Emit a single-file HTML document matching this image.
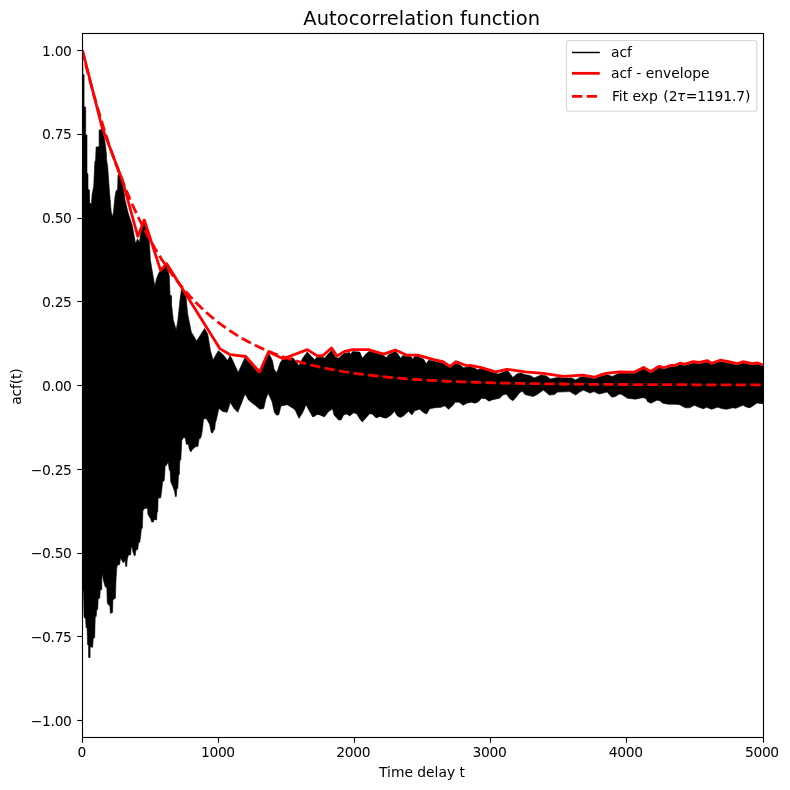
<!DOCTYPE html>
<html><head><meta charset="utf-8"><title>Autocorrelation function</title>
<style>
html,body{margin:0;padding:0;background:#fff;}
svg{display:block;}
text{font-family:"DejaVu Sans", "Liberation Sans", sans-serif;fill:#000;}
</style></head><body>
<svg width="790" height="790" viewBox="0 0 790 790">
<rect x="0" y="0" width="790" height="790" fill="#fff"/>
<defs><clipPath id="ax"><rect x="82.5" y="33.5" width="681.0" height="704.0"/></clipPath></defs>
<g clip-path="url(#ax)">
<polygon points="82.5,50.3 83.0,74.7 84.1,74.7 84.1,107.0 85.7,107.0 85.7,135.0 87.0,135.0 87.0,173.0 88.0,174.0 88.0,189.0 89.5,190.0 89.5,203.0 91.0,203.5 91.4,205.2 92.1,194.2 93.7,186.6 94.8,162.0 95.6,160.0 96.1,147.0 99.1,146.7 99.1,130.0 101.2,129.8 101.9,126.8 104.8,140.5 106.4,153.2 106.6,160.0 107.7,166.8 109.2,188.1 111.1,210.9 112.3,217.0 113.4,212.4 114.9,197.2 116.1,190.4 117.6,190.0 118.0,174.8 120.2,174.0 122.3,180.5 125.2,200.4 128.4,214.0 132.2,225.0 135.0,240.5 135.6,243.7 137.5,238.7 139.4,242.5 140.8,233.0 143.6,223.4 144.3,221.0 149.2,239.5 150.4,260.0 152.8,274.4 154.9,286.4 156.4,279.0 158.7,273.0 160.4,271.0 166.6,264.7 169.3,275.4 170.0,294.4 171.6,296.0 171.6,305.0 173.3,320.0 176.2,330.0 177.9,320.0 180.0,300.0 181.4,289.8 182.4,289.5 186.0,296.6 186.8,305.0 187.7,314.0 191.3,332.0 196.6,340.9 204.6,328.5 207.7,333.9 210.3,349.8 213.0,360.0 218.3,350.7 222.7,354.2 227.6,360.4 229.8,356.0 231.6,358.0 238.2,372.4 244.9,357.8 258.2,372.8 259.5,373.0 268.8,353.4 272.4,360.4 274.1,369.3 276.8,372.8 280.4,362.2 283.0,359.0 292.8,357.8 295.0,360.2 299.0,365.8 302.6,358.2 307.2,352.1 310.2,355.1 314.7,359.7 316.8,357.2 322.8,357.2 324.4,358.2 331.5,350.6 335.5,357.2 338.5,358.2 344.1,353.6 349.7,352.6 350.2,354.6 352.7,351.6 359.8,352.1 362.3,358.2 365.9,354.1 368.9,351.6 370.0,351.6 383.7,355.6 386.2,357.7 388.7,354.6 395.3,351.6 398.4,354.6 400.4,358.2 402.9,355.6 406.5,356.6 411.0,356.6 412.5,359.2 414.6,356.6 417.6,356.6 423.7,359.2 426.2,363.7 428.7,360.2 433.8,361.2 442.9,363.2 445.0,364.7 450.1,367.8 456.1,363.2 461.0,365.5 463.2,367.8 466.8,367.3 470.3,366.8 475.0,368.2 477.4,369.8 480.4,368.8 495.6,373.3 498.2,374.0 506.8,370.8 508.8,371.8 512.8,377.4 516.9,373.9 521.0,372.9 524.0,374.4 530.0,375.5 534.2,377.9 541.3,374.9 546.3,375.9 550.4,378.9 557.5,377.4 563.5,377.9 571.6,377.9 575.7,379.9 579.7,377.4 582.8,376.7 594.4,378.7 600.0,376.7 606.1,374.9 608.2,374.9 612.2,376.4 617.3,373.9 619.3,373.3 634.5,373.6 643.6,369.0 650.7,373.0 659.3,367.8 663.9,369.3 670.9,366.8 675.0,366.8 680.1,364.7 684.7,365.7 693.3,363.2 699.4,363.9 707.5,362.2 711.5,364.7 720.1,361.7 728.7,363.2 736.8,365.2 742.9,363.2 750.0,364.7 752.0,364.8 757.9,364.3 763.5,366.5 763.5,403.9 757.0,403.0 750.0,407.8 747.0,407.3 742.9,405.3 735.8,408.3 732.8,407.8 726.7,409.3 722.7,408.8 717.6,407.3 711.5,409.3 706.5,407.3 703.4,408.8 698.9,407.3 694.3,405.3 689.7,407.8 685.2,407.8 679.6,404.7 675.0,404.2 667.9,404.2 662.8,403.2 659.8,400.7 656.8,400.2 651.2,403.2 647.7,401.7 645.6,398.2 642.6,397.7 635.5,399.2 627.4,398.2 621.8,394.6 619.3,394.1 615.3,396.6 611.7,397.2 607.2,392.1 599.0,394.1 593.9,391.6 589.9,393.1 583.3,390.1 579.7,392.1 575.7,395.1 569.6,391.6 557.5,392.1 554.4,394.6 549.4,395.1 543.3,390.1 537.2,394.6 533.2,396.6 525.0,394.6 522.0,391.1 518.9,393.6 515.9,397.7 512.8,400.7 509.8,398.7 506.3,394.1 502.7,395.1 499.7,398.2 492.6,399.7 489.0,401.2 485.5,398.7 481.5,398.2 478.4,401.7 474.9,403.2 471.3,402.2 466.8,403.2 463.2,405.3 459.2,402.2 455.1,402.2 452.6,405.8 448.5,409.3 444.9,405.8 440.9,407.3 434.8,407.8 429.7,408.8 426.7,413.9 423.7,412.8 419.6,409.3 414.6,410.8 412.0,414.9 408.5,411.3 403.4,415.9 400.4,417.4 397.3,415.9 394.3,411.3 391.3,414.9 386.7,417.9 384.2,417.9 380.1,416.4 376.1,417.9 373.0,414.9 372.0,413.9 369.4,413.9 365.9,417.9 362.3,422.0 359.8,418.9 356.8,413.9 353.7,412.8 349.7,415.9 346.6,413.9 343.6,414.9 341.1,419.9 338.5,419.9 334.0,414.9 332.5,408.8 328.4,411.8 324.4,416.9 319.8,414.9 316.8,414.4 315.3,415.9 312.7,416.9 309.2,410.8 306.1,404.7 302.6,412.8 299.0,418.4 295.0,409.8 293.3,408.5 287.2,404.7 281.0,406.0 278.9,414.5 276.6,415.3 274.3,412.3 272.0,401.6 268.2,393.3 266.0,398.6 263.7,408.5 259.9,409.2 255.3,405.4 248.5,400.0 245.0,394.0 241.6,403.0 237.8,412.3 234.0,408.5 230.3,402.4 227.2,412.3 222.7,411.5 218.9,408.5 216.3,420.0 215.3,423.0 214.7,429.6 213.7,430.1 212.5,433.2 211.2,432.2 209.7,424.6 207.2,420.0 206.0,418.4 203.7,419.0 203.4,420.0 202.6,428.1 201.6,434.7 200.6,438.2 199.1,438.7 198.0,446.3 195.5,446.8 192.0,449.9 190.9,451.9 189.4,449.4 188.4,444.3 186.4,444.3 185.4,438.7 183.9,437.2 181.8,440.3 180.8,460.0 179.8,460.5 179.3,474.7 178.5,475.2 177.8,488.4 176.8,488.9 176.3,496.5 175.3,496.5 174.7,491.9 172.7,486.3 170.7,481.8 170.2,471.1 169.2,469.6 168.2,462.0 166.6,465.0 165.1,466.6 164.6,476.2 164.1,480.8 162.6,481.8 161.6,491.4 160.6,498.0 158.1,498.1 157.8,511.8 157.1,511.8 156.6,519.9 154.0,519.4 153.5,521.9 151.5,521.9 151.0,519.4 147.9,514.3 147.4,506.2 146.9,508.2 144.4,508.7 142.9,510.8 142.4,528.0 141.4,529.0 140.6,536.6 139.8,542.2 138.5,542.7 137.8,549.2 135.8,550.3 135.3,555.3 134.3,555.8 132.8,551.3 132.2,547.2 131.2,547.2 130.7,554.8 128.2,555.3 127.2,559.9 126.7,566.5 125.7,566.5 125.2,560.0 123.6,562.9 122.1,560.9 120.6,557.8 119.6,564.4 117.1,565.4 116.6,570.0 115.9,582.0 115.4,598.2 112.9,599.7 112.6,612.4 110.4,613.4 109.9,606.3 107.3,603.3 106.8,587.6 105.3,587.1 103.3,580.0 102.2,572.8 101.8,580.0 101.8,589.6 100.3,590.1 99.7,598.2 98.2,598.7 97.7,609.4 96.7,609.9 96.2,616.5 95.2,617.0 94.7,637.7 93.2,638.2 92.7,647.3 90.1,646.8 90.1,657.5 88.6,657.5 88.6,645.8 87.6,644.8 87.1,628.6 86.1,627.6 85.6,618.5 84.0,617.5 83.5,591.1 82.5,591.0" fill="#000" stroke="#000" stroke-width="0.6" stroke-linejoin="round"/>
<polyline points="82.5,50.3 101.8,126.5 122.3,180.0 137.8,236.4 144.3,220.0 160.6,270.4 166.6,263.6 220.1,348.9 230.3,354.7 245.8,356.5 259.5,372.0 268.6,351.8 283.0,358.7 307.4,349.6 316.8,355.6 322.8,355.6 331.5,348.0 337.0,356.1 344.1,351.6 352.7,349.6 368.9,349.6 370.0,350.1 383.7,354.1 395.3,350.1 406.5,355.1 417.6,355.1 433.8,359.7 442.9,361.7 450.1,366.3 456.1,361.7 466.8,365.8 470.3,365.3 480.4,367.3 495.6,371.8 506.8,369.3 525.0,371.8 543.3,373.4 563.5,376.4 582.8,375.2 594.4,377.2 600.0,375.2 606.1,373.4 619.3,371.8 634.5,372.1 643.6,367.5 650.7,371.5 659.3,366.3 663.9,367.8 670.9,365.3 675.0,365.3 680.1,363.2 684.7,364.2 693.3,361.7 699.4,362.4 707.5,360.7 711.5,363.2 720.1,360.2 728.7,361.7 736.8,363.7 742.9,361.7 750.0,363.2 752.0,363.6 757.9,363.0 763.5,365.3" fill="none" stroke="#f00" stroke-width="2.78" stroke-linejoin="round"/>
<polyline points="82.2,49.9 83.5,55.5 84.9,61.0 86.2,66.4 87.6,71.7 89.0,76.9 90.3,82.0 91.7,87.1 93.0,92.0 94.4,96.9 95.8,101.7 97.1,106.4 98.5,111.0 99.9,115.6 101.2,120.1 102.6,124.5 103.9,128.8 105.3,133.1 106.7,137.3 108.0,141.4 109.4,145.4 110.7,149.4 112.1,153.4 113.5,157.2 114.8,161.0 116.2,164.7 117.6,168.4 118.9,172.0 120.3,175.5 121.6,179.0 123.0,182.4 124.4,185.8 125.7,189.1 127.1,192.4 128.5,195.6 129.8,198.7 131.2,201.8 132.5,204.9 133.9,207.9 135.3,210.8 136.6,213.7 138.0,216.6 139.3,219.4 140.7,222.1 142.1,224.8 143.4,227.5 144.8,230.1 146.2,232.7 147.5,235.2 148.9,237.7 150.2,240.2 151.6,242.6 153.0,245.0 154.3,247.3 155.7,249.6 157.0,251.8 158.4,254.0 159.8,256.2 161.1,258.4 162.5,260.5 163.9,262.5 165.2,264.6 166.6,266.6 167.9,268.6 169.3,270.5 170.7,272.4 172.0,274.3 173.4,276.1 174.8,277.9 176.1,279.7 177.5,281.5 178.8,283.2 180.2,284.9 181.6,286.5 182.9,288.2 184.3,289.8 185.6,291.4 187.0,292.9 188.4,294.5 189.7,296.0 191.1,297.4 192.5,298.9 193.8,300.3 195.2,301.7 196.5,303.1 197.9,304.5 199.3,305.8 200.6,307.1 202.0,308.4 203.4,309.7 204.7,311.0 206.1,312.2 207.4,313.4 208.8,314.6 210.2,315.8 211.5,316.9 212.9,318.0 214.2,319.2 215.6,320.3 217.0,321.3 218.3,322.4 219.7,323.4 221.1,324.5 222.4,325.5 223.8,326.4 225.1,327.4 226.5,328.4 227.9,329.3 229.2,330.2 230.6,331.2 231.9,332.0 233.3,332.9 234.7,333.8 236.0,334.6 237.4,335.5 238.8,336.3 240.1,337.1 241.5,337.9 242.8,338.7 244.2,339.5 245.6,340.2 246.9,341.0 248.3,341.7 249.7,342.4 251.0,343.1 252.4,343.8 253.7,344.5 255.1,345.2 256.5,345.8 257.8,346.5 259.2,347.1 260.5,347.8 261.9,348.4 263.3,349.0 264.6,349.6 266.0,350.2 267.4,350.7 268.7,351.3 270.1,351.9 271.4,352.4 272.8,353.0 274.2,353.5 275.5,354.0 276.9,354.5 278.2,355.0 279.6,355.5 281.0,356.0 282.3,356.5 283.7,357.0 285.1,357.4 286.4,357.9 287.8,358.4 289.1,358.8 290.5,359.2 291.9,359.7 293.2,360.1 294.6,360.5 296.0,360.9 297.3,361.3 298.7,361.7 300.0,362.1 301.4,362.5 302.8,362.8 304.1,363.2 305.5,363.6 306.8,363.9 308.2,364.3 309.6,364.6 310.9,365.0 312.3,365.3 313.7,365.6 315.0,365.9 316.4,366.2 317.7,366.6 319.1,366.9 320.5,367.2 321.8,367.5 323.2,367.8 324.6,368.0 325.9,368.3 327.3,368.6 328.6,368.9 330.0,369.1 331.4,369.4 332.7,369.7 334.1,369.9 335.4,370.2 336.8,370.4 338.2,370.6 339.5,370.9 340.9,371.1 342.3,371.3 343.6,371.6 345.0,371.8 346.3,372.0 347.7,372.2 349.1,372.4 350.4,372.7 351.8,372.9 353.1,373.1 354.5,373.3 355.9,373.4 357.2,373.6 358.6,373.8 360.0,374.0 361.3,374.2 362.7,374.4 364.0,374.5 365.4,374.7 366.8,374.9 368.1,375.1 369.5,375.2 370.9,375.4 372.2,375.5 373.6,375.7 374.9,375.9 376.3,376.0 377.7,376.2 379.0,376.3 380.4,376.4 381.7,376.6 383.1,376.7 384.5,376.9 385.8,377.0 387.2,377.1 388.6,377.3 389.9,377.4 391.3,377.5 392.6,377.6 394.0,377.8 395.4,377.9 396.7,378.0 398.1,378.1 399.4,378.2 400.8,378.3 402.2,378.4 403.5,378.5 404.9,378.7 406.3,378.8 407.6,378.9 409.0,379.0 410.3,379.1 411.7,379.2 413.1,379.3 414.4,379.4 415.8,379.4 417.2,379.5 418.5,379.6 419.9,379.7 421.2,379.8 422.6,379.9 424.0,380.0 425.3,380.1 426.7,380.1 428.0,380.2 429.4,380.3 430.8,380.4 432.1,380.4 433.5,380.5 434.9,380.6 436.2,380.7 437.6,380.7 438.9,380.8 440.3,380.9 441.7,380.9 443.0,381.0 444.4,381.1 445.8,381.1 447.1,381.2 448.5,381.3 449.8,381.3 451.2,381.4 452.6,381.4 453.9,381.5 455.3,381.6 456.6,381.6 458.0,381.7 459.4,381.7 460.7,381.8 462.1,381.8 463.5,381.9 464.8,381.9 466.2,382.0 467.5,382.0 468.9,382.1 470.3,382.1 471.6,382.2 473.0,382.2 474.3,382.3 475.7,382.3 477.1,382.4 478.4,382.4 479.8,382.4 481.2,382.5 482.5,382.5 483.9,382.6 485.2,382.6 486.6,382.6 488.0,382.7 489.3,382.7 490.7,382.8 492.1,382.8 493.4,382.8 494.8,382.9 496.1,382.9 497.5,382.9 498.9,383.0 500.2,383.0 501.6,383.0 502.9,383.1 504.3,383.1 505.7,383.1 507.0,383.1 508.4,383.2 509.8,383.2 511.1,383.2 512.5,383.3 513.8,383.3 515.2,383.3 516.6,383.3 517.9,383.4 519.3,383.4 520.6,383.4 522.0,383.4 523.4,383.5 524.7,383.5 526.1,383.5 527.5,383.5 528.8,383.6 530.2,383.6 531.5,383.6 532.9,383.6 534.3,383.7 535.6,383.7 537.0,383.7 538.4,383.7 539.7,383.7 541.1,383.8 542.4,383.8 543.8,383.8 545.2,383.8 546.5,383.8 547.9,383.9 549.2,383.9 550.6,383.9 552.0,383.9 553.3,383.9 554.7,383.9 556.1,384.0 557.4,384.0 558.8,384.0 560.1,384.0 561.5,384.0 562.9,384.0 564.2,384.0 565.6,384.1 567.0,384.1 568.3,384.1 569.7,384.1 571.0,384.1 572.4,384.1 573.8,384.1 575.1,384.2 576.5,384.2 577.8,384.2 579.2,384.2 580.6,384.2 581.9,384.2 583.3,384.2 584.7,384.2 586.0,384.3 587.4,384.3 588.7,384.3 590.1,384.3 591.5,384.3 592.8,384.3 594.2,384.3 595.5,384.3 596.9,384.3 598.3,384.4 599.6,384.4 601.0,384.4 602.4,384.4 603.7,384.4 605.1,384.4 606.4,384.4 607.8,384.4 609.2,384.4 610.5,384.4 611.9,384.4 613.3,384.4 614.6,384.5 616.0,384.5 617.3,384.5 618.7,384.5 620.1,384.5 621.4,384.5 622.8,384.5 624.1,384.5 625.5,384.5 626.9,384.5 628.2,384.5 629.6,384.5 631.0,384.5 632.3,384.5 633.7,384.6 635.0,384.6 636.4,384.6 637.8,384.6 639.1,384.6 640.5,384.6 641.8,384.6 643.2,384.6 644.6,384.6 645.9,384.6 647.3,384.6 648.7,384.6 650.0,384.6 651.4,384.6 652.7,384.6 654.1,384.6 655.5,384.6 656.8,384.6 658.2,384.7 659.6,384.7 660.9,384.7 662.3,384.7 663.6,384.7 665.0,384.7 666.4,384.7 667.7,384.7 669.1,384.7 670.4,384.7 671.8,384.7 673.2,384.7 674.5,384.7 675.9,384.7 677.3,384.7 678.6,384.7 680.0,384.7 681.3,384.7 682.7,384.7 684.1,384.7 685.4,384.7 686.8,384.7 688.2,384.7 689.5,384.7 690.9,384.7 692.2,384.7 693.6,384.8 695.0,384.8 696.3,384.8 697.7,384.8 699.0,384.8 700.4,384.8 701.8,384.8 703.1,384.8 704.5,384.8 705.9,384.8 707.2,384.8 708.6,384.8 709.9,384.8 711.3,384.8 712.7,384.8 714.0,384.8 715.4,384.8 716.7,384.8 718.1,384.8 719.5,384.8 720.8,384.8 722.2,384.8 723.6,384.8 724.9,384.8 726.3,384.8 727.6,384.8 729.0,384.8 730.4,384.8 731.7,384.8 733.1,384.8 734.5,384.8 735.8,384.8 737.2,384.8 738.5,384.8 739.9,384.8 741.3,384.8 742.6,384.8 744.0,384.8 745.3,384.8 746.7,384.8 748.1,384.8 749.4,384.8 750.8,384.8 752.2,384.8 753.5,384.8 754.9,384.8 756.2,384.8 757.6,384.8 759.0,384.9 760.3,384.9 761.7,384.9 763.0,384.9" fill="none" stroke="#f00" stroke-width="2.78" stroke-dasharray="10.28 4.44" stroke-linejoin="round"/>
</g>

<rect x="82.5" y="33.5" width="681.0" height="704.0" fill="none" stroke="#000" stroke-width="1.11"/>
<line x1="82.50" y1="737.5" x2="82.50" y2="742.70" stroke="#000" stroke-width="1.11"/>
<text x="81.70" y="756.8" font-size="13.89" text-anchor="middle" letter-spacing="-0.35">0</text>
<line x1="218.50" y1="737.5" x2="218.50" y2="742.70" stroke="#000" stroke-width="1.11"/>
<text x="217.90" y="756.8" font-size="13.89" text-anchor="middle" letter-spacing="-0.35">1000</text>
<line x1="354.50" y1="737.5" x2="354.50" y2="742.70" stroke="#000" stroke-width="1.11"/>
<text x="353.30" y="756.8" font-size="13.89" text-anchor="middle" letter-spacing="-0.35">2000</text>
<line x1="490.50" y1="737.5" x2="490.50" y2="742.70" stroke="#000" stroke-width="1.11"/>
<text x="489.50" y="756.8" font-size="13.89" text-anchor="middle" letter-spacing="-0.35">3000</text>
<line x1="626.50" y1="737.5" x2="626.50" y2="742.70" stroke="#000" stroke-width="1.11"/>
<text x="625.70" y="756.8" font-size="13.89" text-anchor="middle" letter-spacing="-0.35">4000</text>
<line x1="763.50" y1="737.5" x2="763.50" y2="742.70" stroke="#000" stroke-width="1.11"/>
<text x="761.90" y="756.8" font-size="13.89" text-anchor="middle" letter-spacing="-0.35">5000</text>
<line x1="77.30" y1="50.50" x2="82.5" y2="50.50" stroke="#000" stroke-width="1.11"/>
<text x="71.6" y="55.54" font-size="13.89" text-anchor="end" letter-spacing="-0.35">1.00</text>
<line x1="77.30" y1="134.50" x2="82.5" y2="134.50" stroke="#000" stroke-width="1.11"/>
<text x="71.6" y="139.35" font-size="13.89" text-anchor="end" letter-spacing="-0.35">0.75</text>
<line x1="77.30" y1="218.50" x2="82.5" y2="218.50" stroke="#000" stroke-width="1.11"/>
<text x="71.6" y="223.16" font-size="13.89" text-anchor="end" letter-spacing="-0.35">0.50</text>
<line x1="77.30" y1="301.50" x2="82.5" y2="301.50" stroke="#000" stroke-width="1.11"/>
<text x="71.6" y="306.97" font-size="13.89" text-anchor="end" letter-spacing="-0.35">0.25</text>
<line x1="77.30" y1="385.50" x2="82.5" y2="385.50" stroke="#000" stroke-width="1.11"/>
<text x="71.6" y="390.78" font-size="13.89" text-anchor="end" letter-spacing="-0.35">0.00</text>
<line x1="77.30" y1="469.50" x2="82.5" y2="469.50" stroke="#000" stroke-width="1.11"/>
<text x="71.6" y="474.59" font-size="13.89" text-anchor="end" letter-spacing="-0.35">−0.25</text>
<line x1="77.30" y1="553.50" x2="82.5" y2="553.50" stroke="#000" stroke-width="1.11"/>
<text x="71.6" y="558.40" font-size="13.89" text-anchor="end" letter-spacing="-0.35">−0.50</text>
<line x1="77.30" y1="636.50" x2="82.5" y2="636.50" stroke="#000" stroke-width="1.11"/>
<text x="71.6" y="642.21" font-size="13.89" text-anchor="end" letter-spacing="-0.35">−0.75</text>
<line x1="77.30" y1="720.50" x2="82.5" y2="720.50" stroke="#000" stroke-width="1.11"/>
<text x="71.6" y="726.02" font-size="13.89" text-anchor="end" letter-spacing="-0.35">−1.00</text>
<text x="303.3" y="25.2" font-size="19.44" letter-spacing="0.075">Autocorrelation function</text>
<text x="422.0" y="776.9" font-size="13.89" text-anchor="middle" letter-spacing="-0.02">Time delay t</text>
<text transform="translate(20.9,386.6) rotate(-90)" font-size="13.89" text-anchor="middle" letter-spacing="-0.17">acf(t)</text>
<rect x="566.5" y="40.5" width="190.3" height="70.8" rx="2.8" ry="2.8" fill="#fff" fill-opacity="0.8" stroke="#ccc" stroke-opacity="0.8" stroke-width="1.11"/>
<line x1="572" y1="52.5" x2="599.8" y2="52.5" stroke="#000" stroke-width="1.45"/>
<line x1="572" y1="73.3" x2="599.8" y2="73.3" stroke="#f00" stroke-width="2.78"/>
<line x1="572" y1="96.3" x2="599.8" y2="96.3" stroke="#f00" stroke-width="2.78" stroke-dasharray="10.28 4.44"/>
<text x="610.9" y="57.2" font-size="13.89">acf</text>
<text x="610.9" y="78.1" font-size="13.89">acf - envelope</text>
<text x="611.9" y="101.2" font-size="13.89">Fit exp <tspan dx="1">(2</tspan><tspan font-style="italic" dx="-0.6">τ</tspan><tspan dx="0.4" letter-spacing="-0.13">=1191.7)</tspan></text>
</svg></body></html>
